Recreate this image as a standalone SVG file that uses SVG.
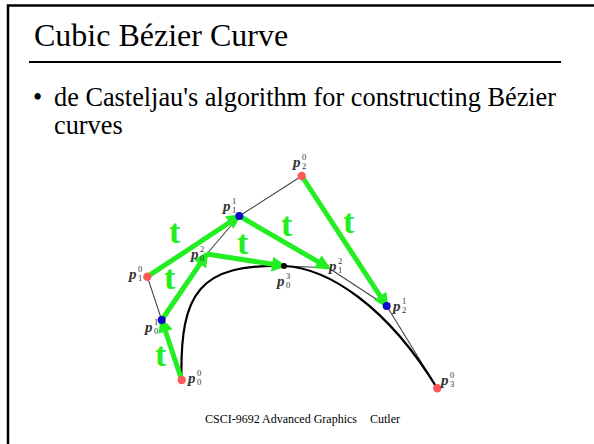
<svg xmlns="http://www.w3.org/2000/svg" width="594" height="444" viewBox="0 0 594 444">
<defs>
<style>
.title{font-family:"Liberation Serif","Times New Roman",serif;font-size:32px;fill:#000}
.body{font-family:"Liberation Serif","Times New Roman",serif;font-size:26.3px;fill:#000}
.foot{font-family:"Liberation Serif","Times New Roman",serif;font-size:12px;fill:#000}
.ctrl{stroke:#444;stroke-width:1.1;fill:none}
.curve{stroke:#000;stroke-width:2.2;fill:none}
.arr{stroke:#22ee22;stroke-width:5;fill:none;marker-end:url(#ah)}
.t{font-family:"Liberation Serif","Times New Roman",serif;font-size:34px;font-weight:bold;fill:#22ee22}
.p{font-family:"Liberation Serif","Times New Roman",serif;font-size:15px;font-weight:bold;font-style:italic;fill:#333}
.s{font-family:"Liberation Serif","Times New Roman",serif;font-size:8.5px;fill:#333}
.red{fill:#ff5a5a}
.blue{fill:#0a0ac8}
</style>
<marker id="ah" viewBox="0 0 10 10" refX="8" refY="5" markerWidth="3.4" markerHeight="3" orient="auto" markerUnits="strokeWidth">
<path d="M0,0 L10,5 L0,10 z" fill="#22ee22"/>
</marker>
</defs>
<rect width="594" height="444" fill="#fff"/>
<path d="M8,444 V5.5 H594" fill="none" stroke="#000" stroke-width="2.5"/>
<text class="title" x="34" y="46">Cubic Bézier Curve</text>
<line x1="29" y1="62" x2="561" y2="62" stroke="#000" stroke-width="2"/>
<text class="body" x="33" y="106">•</text>
<text class="body" x="54" y="106">de Casteljau's algorithm for constructing Bézier</text>
<text class="body" x="54" y="134">curves</text>
<g id="connectors">
<line class="ctrl" x1="147.3" y1="276.7" x2="161.7" y2="320"/>
<line class="ctrl" x1="239.3" y1="216" x2="301.7" y2="176"/>
<line class="ctrl" x1="386.7" y1="306" x2="437.3" y2="388.3"/>
<line class="ctrl" x1="206.7" y1="254" x2="239.3" y2="216"/>
<line class="ctrl" x1="328.3" y1="267.7" x2="386.7" y2="306"/>
<line class="ctrl" x1="284" y1="266" x2="328.3" y2="267.7"/>
<path class="curve" d="M181.5,378 C180,292 200,264 284,266 C328,268 387,306 437,388"/>
<line class="arr" x1="181.7" y1="380" x2="161.7" y2="320"/>
<line class="arr" x1="147.3" y1="276.7" x2="239.3" y2="216"/>
<line class="arr" x1="301.7" y1="176" x2="386.7" y2="306"/>
<line class="arr" x1="161.7" y1="320" x2="206.7" y2="254"/>
<line class="arr" x1="239.3" y1="216" x2="328.3" y2="267.7"/>
<line class="arr" x1="206.7" y1="254" x2="284" y2="266"/>
</g>
<g id="tlabels">
<text class="t" x="169" y="243">t</text>
<text class="t" x="164" y="289">t</text>
<text class="t" x="155" y="366">t</text>
<text class="t" x="237" y="254">t</text>
<text class="t" x="281" y="236">t</text>
<text class="t" x="343" y="233">t</text>
</g>
<g id="p00"><circle class="red" cx="181.7" cy="380" r="4.2"/><text class="p" x="188" y="383">p</text><text class="s" x="197" y="376">0</text><text class="s" x="197" y="385">0</text></g>
<g id="p10"><circle class="red" cx="147.3" cy="276.7" r="4.2"/><text class="p" x="129" y="279">p</text><text class="s" x="138" y="272">0</text><text class="s" x="138" y="281">1</text></g>
<g id="p20"><circle class="red" cx="301.7" cy="176" r="4.2"/><text class="p" x="293" y="167">p</text><text class="s" x="302" y="160">0</text><text class="s" x="302" y="169">2</text></g>
<g id="p30"><circle class="red" cx="437.3" cy="388.3" r="4.2"/><text class="p" x="441" y="385">p</text><text class="s" x="450" y="378">0</text><text class="s" x="450" y="387">3</text></g>
<g id="p01"><circle class="blue" cx="161.7" cy="320" r="4"/><text class="p" x="145" y="332">p</text><text class="s" x="154" y="325">1</text><text class="s" x="154" y="334">0</text></g>
<g id="p11"><circle class="blue" cx="239.3" cy="216" r="4"/><text class="p" x="223" y="211">p</text><text class="s" x="232" y="204">1</text><text class="s" x="232" y="213">1</text></g>
<g id="p21"><circle class="blue" cx="386.7" cy="306" r="4"/><text class="p" x="393" y="310.5">p</text><text class="s" x="402" y="303.5">1</text><text class="s" x="402" y="312.5">2</text></g>
<g id="p02"><text class="p" x="191" y="258.5">p</text><text class="s" x="200" y="251.5">2</text><text class="s" x="200" y="260.5">0</text></g>
<g id="p12"><text class="p" x="329" y="270.5">p</text><text class="s" x="338" y="263.5">2</text><text class="s" x="338" y="272.5">1</text></g>
<g id="p03"><circle cx="284" cy="266" r="3" fill="#000"/><text class="p" x="277" y="286">p</text><text class="s" x="286" y="279">3</text><text class="s" x="286" y="288">0</text></g>
<text class="foot" x="205" y="423">CSCI-9692 Advanced Graphics</text>
<text class="foot" x="370" y="423">Cutler</text>
</svg>
